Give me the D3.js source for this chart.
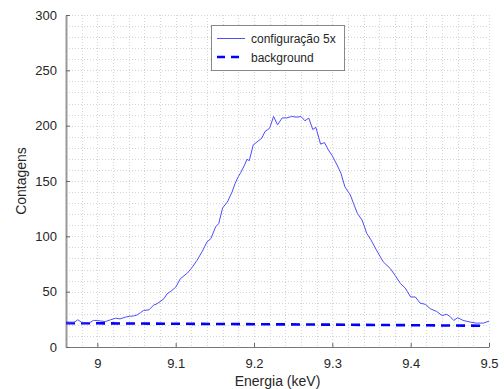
<!DOCTYPE html>
<html><head><meta charset="utf-8">
<script src="https://cdn.jsdelivr.net/npm/d3@7"></script>
<style>body{margin:0;background:#fff}svg{display:block}text{font-family:"Liberation Sans",Arial,sans-serif;fill:#262626}</style>
</head><body><svg id="c" width="504" height="389"></svg>
<script>
const energy = [8.960,8.965,8.970,8.975,8.981,8.986,8.991,8.995,9.000,9.004,9.010,9.017,9.023,9.029,9.036,9.041,9.046,9.051,9.055,9.059,9.066,9.072,9.076,9.080,9.085,9.089,9.095,9.100,9.106,9.115,9.121,9.127,9.134,9.140,9.145,9.151,9.155,9.160,9.166,9.172,9.176,9.180,9.183,9.188,9.191,9.194,9.199,9.206,9.210,9.214,9.220,9.225,9.230,9.236,9.242,9.248,9.255,9.260,9.265,9.270,9.275,9.279,9.285,9.290,9.295,9.300,9.306,9.311,9.316,9.323,9.327,9.332,9.338,9.344,9.349,9.356,9.365,9.374,9.380,9.387,9.393,9.400,9.406,9.412,9.419,9.425,9.433,9.440,9.446,9.450,9.455,9.460,9.467,9.476,9.484,9.493,9.500];
const counts = [21.5,21.8,22,24.6,21.8,22,22.3,24,24,23.5,23,24.6,26,25.4,27,27.8,28,29,31,33,33.6,38,39,41,43.6,48,51,54,61.7,66.8,72,78,86.5,95,98,108.6,111.6,125.8,131,140,148,154,157.5,164.5,169.6,168.4,182.6,186.5,188.7,194.7,197.7,208.3,200.8,207,207,208.3,207.7,208.3,204.4,206.8,196.5,198.5,183.3,184.7,178,172.7,164.5,157,144.8,137.3,129.8,120.7,114.7,102.6,97.2,88,76.9,70.9,64.8,57.3,53.3,45.2,45.2,39.7,38.5,34.6,32.2,28.5,29.5,27.7,24,26.5,24,22.5,21.6,21.6,23.4];
const bgEnergy = [8.96,9.0,9.1,9.2,9.3,9.4,9.49];
const bgCounts = [21.6,21.4,21.0,20.6,20.2,19.7,19.2];
const xTicks = [9,9.1,9.2,9.3,9.4,9.5];
const yTicks = [0,50,100,150,200,250,300];
const legendLabels = ["configuração 5x","background"];

const L=66,R=489,T=15,B=347;
const svg=d3.select("#c");
const x=d3.scaleLinear().domain([8.96,9.5]).range([L,R]);
const y=d3.scaleLinear().domain([0,300]).range([B,T]);

// grid
const g=svg.append("g");
const xMinor=d3.range(8.96,9.5001,0.02);
const yMinor=d3.range(0,300.01,10);
g.selectAll("line.vx").data(xMinor).join("line")
 .attr("x1",d=>Math.round(x(d))+0.5).attr("x2",d=>Math.round(x(d))+0.5).attr("y1",T).attr("y2",B)
 .attr("stroke","#d4d4d4").attr("stroke-dasharray","1,2");
g.selectAll("line.hy").data(yMinor).join("line")
 .attr("y1",d=>Math.round(y(d))+0.5).attr("y2",d=>Math.round(y(d))+0.5).attr("x1",L).attr("x2",R)
 .attr("stroke","#d4d4d4").attr("stroke-dasharray","1,2");

// axes
const xa=svg.append("g").attr("transform",`translate(0,${B})`)
 .call(d3.axisBottom(x).tickValues(xTicks).tickFormat(d3.format("")).tickSizeInner(-4).tickSizeOuter(0).tickPadding(12));
const ya=svg.append("g").attr("transform",`translate(${L},0)`)
 .call(d3.axisLeft(y).tickValues(yTicks).tickSizeInner(-4).tickSizeOuter(0).tickPadding(9));
[xa,ya].forEach(a=>{a.selectAll("text").style("font-size","13px").attr("fill","#262626");
 a.selectAll("line").attr("stroke","#666");});
xa.select(".domain").attr("stroke","#777").attr("stroke-width",1.2);
ya.select(".domain").attr("stroke","#999").attr("stroke-width",2);

// lines
const line=d3.line().x((d,i)=>x(d[0])).y(d=>y(d[1]));
svg.append("path").datum(bgEnergy.map((e,i)=>[e,bgCounts[i]]))
 .attr("d",line).attr("fill","none").attr("stroke","#0000ff").attr("stroke-width",2.6).attr("stroke-dasharray","9,6");
svg.append("path").datum(energy.map((e,i)=>[e,counts[i]]))
 .attr("d",line).attr("fill","none").attr("stroke","#4d4dff").attr("stroke-width",1);

// labels
svg.append("text").attr("x",(L+R)/2).attr("y",386).attr("text-anchor","middle").style("font-size","14px").text("Energia (keV)");
svg.append("text").attr("transform",`translate(26,${(T+B)/2}) rotate(-90)`).attr("text-anchor","middle").style("font-size","14px").text("Contagens");

// legend
const lg=svg.append("g");
lg.append("rect").attr("x",211.5).attr("y",25.5).attr("width",133).attr("height",45).attr("fill","#fff").attr("stroke","#888");
lg.append("line").attr("x1",217).attr("x2",245).attr("y1",38.5).attr("y2",38.5).attr("stroke","#4d4dff").attr("stroke-width",1);
lg.append("line").attr("x1",217).attr("x2",245).attr("y1",57).attr("y2",57).attr("stroke","#0000ff").attr("stroke-width",2.6).attr("stroke-dasharray","8,6");
lg.selectAll("text").data(legendLabels).join("text").attr("x",251).attr("y",(d,i)=>43+i*18.5).style("font-size","12px").text(d=>d);
</script></body></html>
